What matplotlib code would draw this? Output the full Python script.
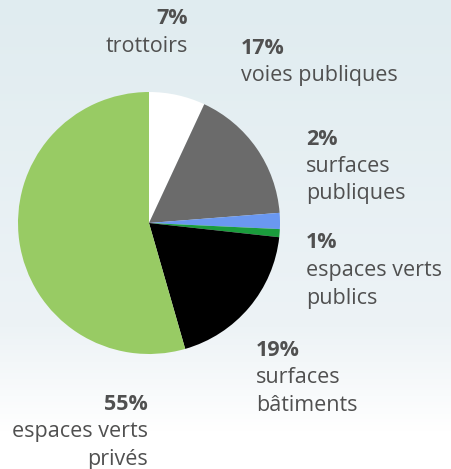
import matplotlib.pyplot as plt
import numpy as np
from matplotlib.colors import LinearSegmentedColormap

# data
labels = ["trottoirs", "voies publiques", "surfaces\npubliques", "espaces verts\npublics",
          "surfaces\nbâtiments", "espaces verts\nprivés"]
values = [7, 17, 2, 1, 19, 55]
colors = ["#ffffff", "#6b6b6b", "#6a98f0", "#1a9c3c", "#000000", "#98cb64"]

W, H = 452, 469
fig = plt.figure(figsize=(W / 100, H / 100), dpi=100)

# background gradient
bg = fig.add_axes([0, 0, 1, 1], zorder=0)
grad = np.linspace(0, 1, 256).reshape(-1, 1)
cmap = LinearSegmentedColormap.from_list("bg", [(0, "#e0ecf0"), (0.7, "#edf3f6"), (0.92, "#ffffff"), (1, "#ffffff")])
bg.imshow(grad, aspect="auto", cmap=cmap, extent=[0, 1, 0, 1])
bg.axis("off")

# pie: centre (149, 223) px, radius 131 px
cx, cy, r = 149, 223, 131
ax = fig.add_axes([(cx - r) / W, (H - cy - r) / H, 2 * r / W, 2 * r / H], zorder=1)
ax.pie(values, colors=colors, startangle=90, counterclock=False, radius=1)
ax.set_xlim(-1, 1)
ax.set_ylim(-1, 1)
ax.axis("off")

txt = "#505050"
font = ["Open Sans", "DejaVu Sans"]
fs = 15.5


def label(x, y, pct, name, ha):
    fig.text(x / W, 1 - y / H, pct, ha=ha, va="center", fontsize=fs, fontweight="bold",
             color=txt, family=font, zorder=2)
    for i, line in enumerate(name.split("\n")):
        fig.text(x / W, 1 - (y + 27.5 * (i + 1)) / H, line, ha=ha, va="center", fontsize=fs,
                 color=txt, family=font, zorder=2)


pcts = [f"{v}%" for v in values]
label(188, 19, pcts[0], labels[0], "right")
label(241, 48, pcts[1], labels[1], "left")
label(306, 139, pcts[2], labels[2], "left")
label(306, 243, pcts[3], labels[3], "left")
label(256, 350, pcts[4], labels[4], "left")
label(148, 404, pcts[5], labels[5], "right")

fig.savefig("out.png", dpi=100)
